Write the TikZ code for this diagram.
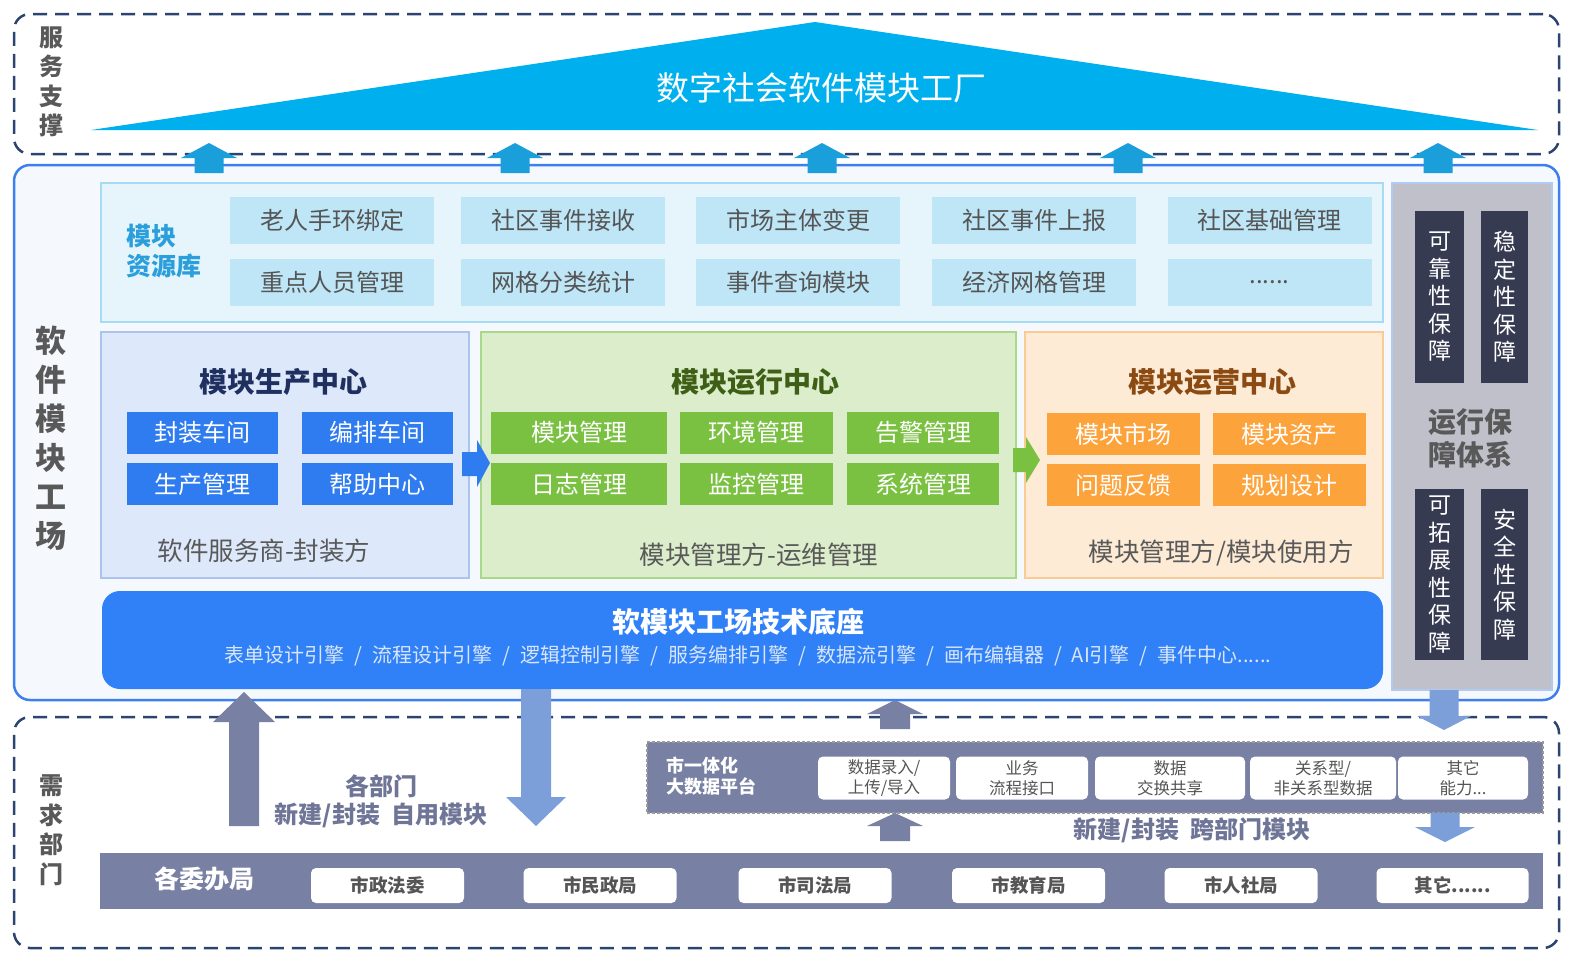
\documentclass[tikz,border=0pt]{standalone}
\usepackage{fontspec}
\setmainfont{Noto Sans CJK SC}
\definecolor{navyd}{HTML}{2B4570}
\definecolor{tric}{HTML}{00B0EE}
\definecolor{toparr}{HTML}{1A9FDB}
\definecolor{mainbd}{HTML}{3D7FEF}
\definecolor{mainfl}{HTML}{F5F9FE}
\definecolor{resfl}{HTML}{E6F4FC}
\definecolor{resbd}{HTML}{A6DCF3}
\definecolor{itemfl}{HTML}{BEE6F7}
\definecolor{txtg}{HTML}{555555}
\definecolor{lblg}{HTML}{595959}
\definecolor{reslbl}{HTML}{2B9FDC}
\definecolor{prodfl}{HTML}{DDE9FB}
\definecolor{prodbd}{HTML}{AAC4EE}
\definecolor{prodtt}{HTML}{1F2F5F}
\definecolor{bluebtn}{HTML}{2F7CF0}
\definecolor{runfl}{HTML}{DCEDCB}
\definecolor{runbd}{HTML}{A9D88A}
\definecolor{runtt}{HTML}{3F5F16}
\definecolor{greenbtn}{HTML}{7AC142}
\definecolor{opsfl}{HTML}{FDEBD6}
\definecolor{opsbd}{HTML}{FBCB94}
\definecolor{opstt}{HTML}{8A4A12}
\definecolor{orangebtn}{HTML}{FDA33B}
\definecolor{techfl}{HTML}{3080F7}
\definecolor{techsub}{HTML}{D9E6FC}
\definecolor{grayfl}{HTML}{BFC0CA}
\definecolor{graybd}{HTML}{AFCBF2}
\definecolor{darkbx}{HTML}{363B52}
\definecolor{slate}{HTML}{7880A3}
\definecolor{lblue}{HTML}{7C9FD9}
\definecolor{platbd}{HTML}{9A9A9A}
\definecolor{bottxt}{HTML}{6F7597}
\newcommand{\fs}[2]{\fontsize{#1}{#2}\selectfont}
\newcommand{\sepx}{\hspace{10pt}/\hspace{10pt}}
\newcommand{\blkarrow}[7]{%
  \fill[#1] (#2,#3) -- ({#2+#6},#4) -- ({#2+#7},#4) -- ({#2+#7},#5)
    -- ({#2-#7},#5) -- ({#2-#7},#4) -- ({#2-#6},#4) -- cycle;}
\begin{document}
\begin{tikzpicture}[x=1pt,y=-1pt,
  dashbox/.style={draw=navyd, line width=2.5pt, dash pattern=on 14pt off 8pt, rounded corners=16pt, inner sep=0pt},
  vlabel/.style={text=lblg, font=\fs{24}{29.5}\bfseries, align=center},
  item/.style={fill=itemfl, minimum width=204pt, minimum height=47pt, inner sep=0pt, text=txtg, font=\fs{24}{28}},
  center/.style={line width=2pt, inner sep=0pt},
  ctitle/.style={font=\fs{28}{32}\bfseries},
  btn/.style={minimum height=42pt, inner sep=0pt, text=white, font=\fs{24}{28}},
  csub/.style={text=lblg, font=\fs{25.5}{30}},
  darkv/.style={fill=darkbx, inner sep=0pt, text=white, font=\fs{23}{27.5}, align=center},
  wbox/.style={fill=white, rounded corners=5pt, inner sep=0pt, text=txtg},
  btxt/.style={text=bottxt, font=\fs{24}{28}\bfseries, align=center}
]
\useasboundingbox (0,0) rectangle (1574,961);
\fill[white] (0,0) rectangle (1574,961);

% ---------- top: service support ----------
\node[dashbox, minimum width=1545pt, minimum height=140pt] (topbox) at (786.5,84) {};
\node[vlabel] (toplbl) at (51,82) {服\\务\\支\\撑};
\fill[tric] (91,130) -- (815,22) -- (1538,130) -- cycle;
\node[text=white, font=\fs{33}{38}] (factory) at (821,88) {数字社会软件模块工厂};

% ---------- main box ----------
\node[draw=mainbd, fill=mainfl, line width=2.5pt, rounded corners=16pt, minimum width=1545pt, minimum height=535pt, inner sep=0pt] (mainbox) at (786.5,432.5) {};
\foreach \ax in {209,515,822,1128,1438} {\blkarrow{toparr}{\ax}{143}{158}{173}{28}{14.5}}
\node[text=lblg, font=\fs{31}{39}\bfseries, align=center] (mainlbl) at (51,438) {软\\件\\模\\块\\工\\场};

% resource library
\node[draw=resbd, fill=resfl, line width=2pt, minimum width=1282pt, minimum height=139pt, inner sep=0pt] (resbox) at (742,252.5) {};
\node[anchor=west, text=reslbl, font=\fs{25}{30}\bfseries, align=left] (reslbl) at (123,251) {模块\\资源库};
\node[item] (r11) at (332,220) {老人手环绑定};
\node[item] (r12) at (563,220) {社区事件接收};
\node[item] (r13) at (798,220) {市场主体变更};
\node[item] (r14) at (1034,220) {社区事件上报};
\node[item] (r15) at (1269.5,220) {社区基础管理};
\node[item] (r21) at (332,282) {重点人员管理};
\node[item] (r22) at (563,282) {网格分类统计};
\node[item] (r23) at (798,282) {事件查询模块};
\node[item] (r24) at (1034,282) {经济网格管理};
\node[item] (r25) at (1269.5,282) {......};

% right guarantee panel
\node[draw=graybd, fill=grayfl, line width=1.5pt, minimum width=160pt, minimum height=507pt, inner sep=0pt] (guard) at (1472,436.5) {};
\node[darkv, minimum width=49pt, minimum height=172pt] (g1) at (1439.5,297) {可\\靠\\性\\保\\障};
\node[darkv, minimum width=47pt, minimum height=172pt] (g2) at (1504.5,297) {稳\\定\\性\\保\\障};
\node[darkv, minimum width=49pt, minimum height=171pt] (g3) at (1439.5,574.5) {可\\拓\\展\\性\\保\\障};
\node[darkv, minimum width=47pt, minimum height=171pt] (g4) at (1504.5,574.5) {安\\全\\性\\保\\障};
\node[text=lblg, font=\fs{28}{33}\bfseries, align=center] (guardlbl) at (1470,438) {运行保\\障体系};

% production center
\node[draw=prodbd, fill=prodfl, center, minimum width=368pt, minimum height=246pt] (prod) at (285,455) {};
\node[ctitle, text=prodtt] (prodt) at (283,382) {模块生产中心};
\node[btn, fill=bluebtn, minimum width=151pt] (p1) at (202.5,432.5) {封装车间};
\node[btn, fill=bluebtn, minimum width=151pt] (p2) at (377.5,432.5) {编排车间};
\node[btn, fill=bluebtn, minimum width=151pt] (p3) at (202.5,484) {生产管理};
\node[btn, fill=bluebtn, minimum width=151pt] (p4) at (377.5,484) {帮助中心};
\node[csub] (prods) at (264,551) {软件服务商-封装方};

% running center
\node[draw=runbd, fill=runfl, center, minimum width=535pt, minimum height=246pt] (run) at (748.5,455) {};
\node[ctitle, text=runtt] (runt) at (755,382) {模块运行中心};
\node[btn, fill=greenbtn, minimum width=176pt] (u1) at (579,432.5) {模块管理};
\node[btn, fill=greenbtn, minimum width=153pt] (u2) at (756.5,432.5) {环境管理};
\node[btn, fill=greenbtn, minimum width=152pt] (u3) at (923,432.5) {告警管理};
\node[btn, fill=greenbtn, minimum width=176pt] (u4) at (579,484) {日志管理};
\node[btn, fill=greenbtn, minimum width=153pt] (u5) at (756.5,484) {监控管理};
\node[btn, fill=greenbtn, minimum width=152pt] (u6) at (923,484) {系统管理};
\node[csub] (runs) at (759,555) {模块管理方-运维管理};

% operations center
\node[draw=opsbd, fill=opsfl, center, minimum width=358pt, minimum height=246pt] (ops) at (1204,455) {};
\node[ctitle, text=opstt] (opst) at (1212,382) {模块运营中心};
\node[btn, fill=orangebtn, minimum width=153pt] (o1) at (1123.5,434) {模块市场};
\node[btn, fill=orangebtn, minimum width=153pt] (o2) at (1289.5,434) {模块资产};
\node[btn, fill=orangebtn, minimum width=153pt] (o3) at (1123.5,485) {问题反馈};
\node[btn, fill=orangebtn, minimum width=153pt] (o4) at (1289.5,485) {规划设计};
\node[csub] (opss) at (1221,553) {模块管理方/模块使用方};

% flow arrows between centers
\fill[bluebtn] (462,452) -- (477,452) -- (477,440) -- (490,463) -- (477,487) -- (477,476) -- (462,476) -- cycle;
\fill[greenbtn] (1013,448) -- (1026,448) -- (1026,437) -- (1040,460) -- (1026,483) -- (1026,472) -- (1013,472) -- cycle;

% technology base
\node[fill=techfl, rounded corners=18pt, minimum width=1281pt, minimum height=98pt, inner sep=0pt] (tech) at (742.5,640) {};
\node[text=white, font=\fs{28}{32}\bfseries] (techt) at (738,622) {软模块工场技术底座};
\node[text=techsub, font=\fs{20}{24}] (techs) at (748,656) {表单设计引擎\sepx 流程设计引擎\sepx 逻辑控制引擎\sepx 服务编排引擎\sepx 数据流引擎\sepx 画布编辑器\sepx AI引擎\sepx 事件中心......};

% ---------- bottom: demand departments ----------
\node[dashbox, minimum width=1545pt, minimum height=231pt] (botbox) at (786.5,832.5) {};
\node[vlabel] (botlbl) at (51,830) {需\\求\\部\\门};

\blkarrow{slate}{244}{692}{722}{826}{31}{15}
\blkarrow{lblue}{536}{826}{797}{689}{30}{15}
\node[btxt] (deptxt) at (381,801) {各部门\\新建/封装\ \ 自用模块};

% platform
\node[draw=platbd, fill=slate, line width=1.5pt, dash pattern=on 3pt off 2pt, minimum width=896pt, minimum height=71pt, inner sep=0pt] (plat) at (1095,777.5) {};
\node[anchor=west, text=white, font=\fs{18}{21}\bfseries, align=left] (platlbl) at (663,776) {市一体化\\大数据平台};
\node[wbox, minimum width=132pt, minimum height=43pt, font=\fs{16.5}{20}, align=center] (c1) at (884,778) {数据录入/\\上传/导入};
\node[wbox, minimum width=132pt, minimum height=43pt, font=\fs{16.5}{20}, align=center] (c2) at (1022,778) {业务\\流程接口};
\node[wbox, minimum width=150pt, minimum height=43pt, font=\fs{16.5}{20}, align=center] (c3) at (1170,778) {数据\\交换共享};
\node[wbox, minimum width=146pt, minimum height=43pt, font=\fs{16.5}{20}, align=center] (c4) at (1323,778) {关系型/\\非关系型数据};
\node[wbox, minimum width=130pt, minimum height=43pt, font=\fs{16.5}{20}, align=center] (c5) at (1463,778) {其它\\能力...};

\blkarrow{slate}{895}{700}{714}{729}{28}{15}
\blkarrow{slate}{895}{813}{826}{841}{28}{15}
\blkarrow{lblue}{1444}{730}{716}{690}{27}{14.5}
\blkarrow{lblue}{1445}{842}{827}{813}{30}{14.5}
\node[btxt] (crosstxt) at (1192,830) {新建/封装\ \ 跨部门模块};

% departments bar
\node[fill=slate, minimum width=1443pt, minimum height=56pt, inner sep=0pt] (bar) at (821.5,881) {};
\node[text=white, font=\fs{25}{29}\bfseries] (barlbl) at (204,879) {各委办局};
\node[wbox, minimum width=153pt, minimum height=35pt, font=\fs{18.5}{22}\bfseries] (d1) at (387.5,885.5) {市政法委};
\node[wbox, minimum width=153pt, minimum height=35pt, font=\fs{18.5}{22}\bfseries] (d2) at (600,885.5) {市民政局};
\node[wbox, minimum width=153pt, minimum height=35pt, font=\fs{18.5}{22}\bfseries] (d3) at (815,885.5) {市司法局};
\node[wbox, minimum width=153pt, minimum height=35pt, font=\fs{18.5}{22}\bfseries] (d4) at (1028.5,885.5) {市教育局};
\node[wbox, minimum width=153pt, minimum height=35pt, font=\fs{18.5}{22}\bfseries] (d5) at (1241,885.5) {市人社局};
\node[wbox, minimum width=152pt, minimum height=35pt, font=\fs{18.5}{22}\bfseries] (d6) at (1452.5,885.5) {其它......};
\end{tikzpicture}
\end{document}
